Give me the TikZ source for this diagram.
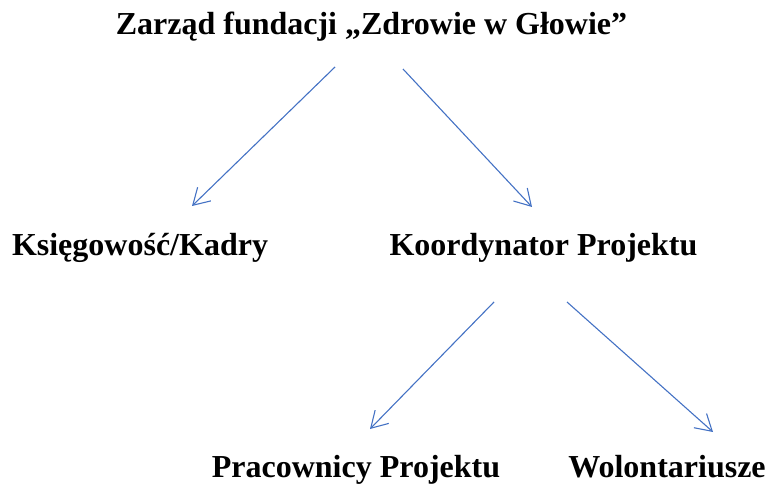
\documentclass[tikz,border=0pt]{standalone}
\usepackage{fontspec}
\setmainfont{Liberation Serif}
\usetikzlibrary{arrows.meta}
\definecolor{arrowblue}{HTML}{4472C4}
\tikzset{
  lbl/.style={anchor=base, inner sep=0pt, font=\fontsize{32}{38}\selectfont\bfseries},
  link/.style={draw=arrowblue, line width=1.1pt, -{Straight Barb[length=16pt,width=19pt,line width=1.1pt]}}
}
\begin{document}
\begin{tikzpicture}[x=1pt,y=-1pt]
\useasboundingbox (0,0) rectangle (771,486);
\node[lbl] (zarzad) at (371.5,35) {Zarząd fundacji „Zdrowie w Głowie”};
\node[lbl] (ksieg) at (140,256) {Księgowość/Kadry};
\node[lbl] (koord) at (543.5,256) {Koordynator Projektu};
\node[lbl] (prac) at (356,477) {Pracownicy Projektu};
\node[lbl] (wolo) at (667,477) {Wolontariusze};
\coordinate (z1) at (335,67);
\coordinate (z2) at (403,69);
\coordinate (k1) at (192,206);
\coordinate (k2) at (532,207);
\coordinate (c1) at (494,302);
\coordinate (c2) at (567,302);
\coordinate (p1) at (370,429);
\coordinate (w1) at (713,432);
\draw[link] (z1) -- (k1);
\draw[link] (z2) -- (k2);
\draw[link] (c1) -- (p1);
\draw[link] (c2) -- (w1);
\end{tikzpicture}
\end{document}
